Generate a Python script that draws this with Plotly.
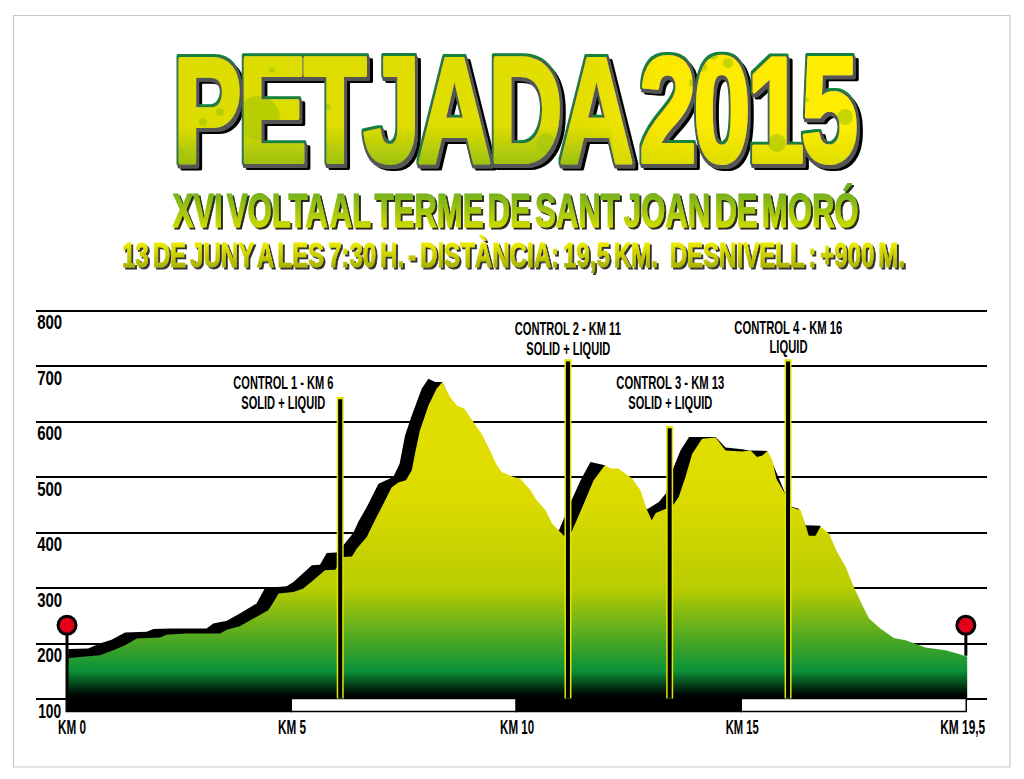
import json
import plotly.graph_objects as go

# elevation profile (km, metres)
km_front = [0, 0.03, 0.73, 1.03, 1.29, 1.55, 2.07, 2.21, 2.66, 3.4, 3.55, 3.84, 4.14, 4.47, 4.59, 4.7, 5.03, 5.25,
            5.47, 5.73, 5.96, 6.14, 6.33, 6.44, 6.66, 6.84, 7.03, 7.21, 7.36, 7.53, 7.66, 7.73, 7.84, 8.03, 8.21,
            8.34, 8.51, 8.66, 8.83, 9.03, 9.21, 9.4, 9.55, 9.66, 9.89, 10.07, 10.3, 10.41, 10.63, 10.78, 11.04,
            11.21, 11.45, 11.7, 11.95, 12.07, 12.26, 12.56, 12.74, 12.89, 12.99, 13.08, 13.31, 13.48, 13.59, 13.74,
            13.89, 14.11, 14.41, 14.63, 15.0, 15.19, 15.33, 15.45, 15.56, 15.67, 15.76, 15.93, 16.08, 16.3, 16.41,
            16.48, 16.63, 16.74, 16.93, 17.11, 17.3, 17.48, 17.67, 17.82, 18.07, 18.37, 18.63, 19.07, 19.52, 19.82,
            20.0, 20.0]
elev_front = [100, 174, 179, 188, 197, 209, 211, 216, 218, 218, 225, 231, 245, 260, 275, 290, 293, 299,
              314, 332, 333, 356, 357, 371, 392, 422, 452, 481, 490, 494, 512, 542, 584, 629, 659,
              671, 644, 629, 623, 599, 578, 548, 521, 509, 501, 497, 476, 461, 440, 416, 394,
              401, 446, 494, 521, 516, 515, 497, 476, 440, 422, 435, 443, 451, 464, 500,
              542, 569, 571, 548, 546, 548, 536, 539, 547, 530, 497, 473, 446, 440, 413,
              394, 394, 411, 398, 365, 338, 302, 269, 245, 227, 210, 206, 193, 188, 181,
              176, 100]

km_shadow = [0, 0.03, 0.47, 0.73, 0.99, 1.29, 1.77, 1.92, 2.29, 3.1, 3.25, 3.55, 3.84, 4.21, 4.4, 4.88, 5.03, 5.44,
             5.62, 5.77, 5.99, 6.14, 6.36, 6.47, 6.66, 6.92, 7.25, 7.39, 7.51, 7.66, 7.88, 8.03, 8.18, 8.34, 9.89,
             10.93, 11.21, 11.41, 11.63, 11.95, 12.89, 13.15, 13.3, 13.48, 13.63, 13.82, 14.41, 14.63, 15.0, 15.15,
             15.56, 16.08, 16.26, 16.41, 16.74, 16.74]
elev_shadow = [100, 190, 191, 200, 207, 220, 221, 226, 227, 227, 236, 241, 254, 272, 300, 303, 311, 341,
               342, 363, 364, 377, 399, 419, 446, 488, 500, 524, 575, 611, 659, 677, 671, 671, 400,
               404, 458, 494, 527, 521, 442, 455, 470, 518, 548, 572, 572, 553, 550, 548,
               547, 447, 443, 413, 412, 100]

control_km = [6.07, 11.13, 13.39, 16.02]
control_top = [644, 712, 592, 712]
control_text = [["CONTROL 1 - KM 6", "SOLID + LIQUID"], ["CONTROL 2 - KM 11", "SOLID + LIQUID"],
                ["CONTROL 3 - KM 13", "SOLID + LIQUID"], ["CONTROL 4 - KM 16", "LIQUID"]]

flag_km = [0, 19.97]
flag_top = [233, 233]
flag_bottom = [100, 178]

segment_km = [2.5, 7.5, 12.5, 17.5]
segment_colors = ["black", "white", "black", "white"]

elev_ticks = [100, 200, 300, 400, 500, 600, 700, 800]
km_tick_vals = [0.11, 5, 10, 15, 19.9]
km_tick_text = ["KM 0", "KM 5", "KM 10", "KM 15", "KM 19,5"]

TITLE = "PETJADA 2015"
SUB1 = "XVI VOLTA AL TERME DE SANT JOAN DE MORÓ"
SUB2 = "13 DE JUNY A LES 7:30 H. - DISTÀNCIA: 19,5 KM.\u00a0\u00a0\u00a0DESNIVELL : +900 M."

W, H = 1024, 779
FONT = "Liberation Sans"
TITLE_FONT = "Liberation Sans Narrow, Liberation Sans"

fig = go.Figure()

# black shadow behind the mountain
fig.add_trace(go.Scatter(x=km_shadow, y=elev_shadow, mode="none", fill="toself", fillcolor="black"))

fig.add_trace(go.Scatter(
    x=km_front, y=elev_front, mode="none", fill="toself",
    fillgradient=dict(type="vertical", start=100, stop=700, colorscale=[
        [0, "#000000"], [0.015, "#010a04"], [0.085, "#0b9239"], [0.333, "#b9cc00"], [0.6, "#dcdb00"], [0.75, "#e0dd00"], [1, "#e0dd00"]]),
))

# km segments under the profile
fig.add_trace(go.Bar(x=segment_km, y=[-24] * 4, base=100, width=5, marker=dict(color=segment_colors, line=dict(color="black", width=1.5))))

# control poles
pole_x, pole_y, pole_y2 = [], [], []
for k, t in zip(control_km, control_top):
    pole_x += [k, k, None]
    pole_y += [101, t, None]
    pole_y2 += [101, t - 4, None]
fig.add_trace(go.Scatter(x=pole_x, y=pole_y, mode="lines", line=dict(color="#e4e400", width=7)))
fig.add_trace(go.Scatter(x=pole_x, y=pole_y2, mode="lines", line=dict(color="black", width=4)))

# start and finish flags
for k, t, b in zip(flag_km, flag_top, flag_bottom):
    fig.add_trace(go.Scatter(x=[k, k], y=[b, t], mode="lines", line=dict(color="black", width=3)))
    fig.add_trace(go.Scatter(x=[k], y=[t], mode="markers", marker=dict(size=18, color="#e2001a", line=dict(color="black", width=3))))

annotations = []


def label(text, px, py, size, color="black", family=FONT, weight="bold"):
    annotations.append(dict(text=text, xref="paper", yref="paper", x=px / W, y=1 - py / H, showarrow=False,
                            xanchor="center", yanchor="middle", font=dict(family=family, size=size, color=color, weight=weight)))


label(TITLE, 514, 110, 150, "#d8dc00", family=TITLE_FONT)
label(SUB1, 515, 210, 49, "#a0c000")
label(SUB2, 513, 254, 35, "#d0d400")

label(control_text[0][0], 283, 383, 18)
label(control_text[0][1], 283, 403, 18)
label(control_text[1][0], 568, 329, 18)
label(control_text[1][1], 568, 349, 18)
label(control_text[2][0], 670, 383, 18)
label(control_text[2][1], 670, 403, 18)
label(control_text[3][0], 788, 328, 18)
label(control_text[3][1], 788, 347, 18)

# elevation labels sit just under their grid lines
for v in elev_ticks:
    annotations.append(dict(text=str(v), xref="paper", yref="y", x=49 / W, y=v, yshift=-11.5, showarrow=False,
                            xanchor="center", yanchor="middle", font=dict(family=FONT, size=20, color="black", weight="bold")))

fig.update_layout(
    width=W, height=H, margin=dict(l=0, r=0, t=0, b=0, autoexpand=False),
    paper_bgcolor="white", plot_bgcolor="white", showlegend=False, bargap=0,
    annotations=annotations,
    shapes=[dict(type="rect", xref="paper", yref="paper", x0=13.5 / W, x1=1010 / W, y0=1 - 767 / H, y1=1 - 15.5 / H,
                 line=dict(color="#c8c8c8", width=1.2), layer="below")],
    xaxis=dict(domain=[36 / W, 987 / W], range=[-0.689, 20.44], showgrid=False, zeroline=False, showline=False,
               automargin=False, tickmode="array", tickvals=km_tick_vals, ticktext=km_tick_text, ticks="",
               tickfont=dict(family=FONT, size=20, color="black", weight="bold")),
    yaxis=dict(domain=[1 - 712.9 / H, 1 - 302.2 / H], range=[75, 815], showgrid=True, gridcolor="black", gridwidth=2,
               zeroline=False, showline=False, automargin=False, tickmode="array", tickvals=elev_ticks, showticklabels=False),
)

# the lettering on the poster is far narrower than any installed face, so fit each text to its measured width
widths = {TITLE: 682, SUB1: 686, SUB2: 783, "SOLID + LIQUID": 84, "LIQUID": 38,
          control_text[0][0]: 100, control_text[1][0]: 106, control_text[2][0]: 108, control_text[3][0]: 108,
          "100": 23, "200": 25, "300": 25, "400": 25, "500": 25, "600": 25, "700": 25, "800": 25,
          "KM 0": 28, "KM 5": 28, "KM 10": 34, "KM 15": 33, "KM 19,5": 45}

# paint splashes inside the title letters: page x, page y, radius
splashes = [[258, 118, 22], [272, 70, 3], [328, 107, 3], [323, 147, 6], [220, 112, 4], [203, 122, 4], [180, 153, 5],
            [421, 65, 7], [375, 112, 6], [475, 60, 6], [518, 97, 6], [546, 143, 10], [636, 73, 6], [702, 67, 5],
            [728, 63, 5], [713, 55, 5], [693, 83, 4], [845, 117, 8], [777, 143, 9], [807, 100, 2]]

post = """
var gd = document.getElementById('{plot_id}');
document.body.style.margin = '0';
var widths = %s;
var splashes = %s;
var NS = 'http://www.w3.org/2000/svg';
var svg = gd.querySelector('svg.main-svg');
var defs = svg.querySelector('defs');
function el(name, attrs, parent) {
  var e = document.createElementNS(NS, name);
  Object.keys(attrs).forEach(function (k) { e.setAttribute(k, attrs[k]); });
  if (parent) parent.appendChild(e);
  return e;
}
function grad(id, x1, y1, x2, y2, stops) {
  var g = el('linearGradient', {id: id, x1: x1, y1: y1, x2: x2, y2: y2}, defs);
  stops.forEach(function (s) {
    var st = el('stop', {offset: s[0], 'stop-color': s[1]}, g);
    if (s.length > 2) st.setAttribute('stop-opacity', s[2]);
  });
}
grad('gBase', 0, 0, 1, 0, [[0, '#dcdc00'], [0.6, '#e2de00'], [0.72, '#fbe900'], [1, '#ffee00']]);
grad('gFoot', 0, 0, 0, 1, [[0, '#90bc10', 0], [1, '#90bc10', 0.95]]);
grad('gFootR', 0, 0, 0, 1, [[0, '#b8cc00', 0], [1, '#b8cc00', 0.5]]);
grad('gSub1', 0, 0, 0, 1, [[0.15, '#6fae1f'], [0.85, '#d2dc00']]);
grad('gSub2', 0, 0, 0, 1, [[0.2, '#ecec00'], [0.85, '#a8b000']]);

// title outline and shadow as one filter, so the title stays a single text
var f = el('filter', {id: 'fTitle', x: '-5%%', y: '-10%%', width: '110%%', height: '120%%'}, defs);
el('feMorphology', {in: 'SourceAlpha', operator: 'dilate', radius: 2.2, result: 'fat'}, f);
[['s', 4, 3.5, '#000000'], ['g', 1, 1.5, '#555555'], ['t', -0.4, -1.2, '#14803c']].forEach(function (l) {
  el('feOffset', {in: 'fat', dx: l[1], dy: l[2], result: l[0] + 'o'}, f);
  el('feFlood', {'flood-color': l[3], result: l[0] + 'c'}, f);
  el('feComposite', {in: l[0] + 'c', in2: l[0] + 'o', operator: 'in', result: l[0]}, f);
});
var m = el('feMerge', {}, f);
['s', 't', 'g', 'SourceGraphic'].forEach(function (n) { el('feMergeNode', {in: n}, m); });

function shadowFilter(id, d, color) {
  var s = el('filter', {id: id, x: '-2%%', y: '-10%%', width: '104%%', height: '120%%'}, defs);
  el('feOffset', {in: 'SourceAlpha', dx: d, dy: d, result: 'o'}, s);
  el('feFlood', {'flood-color': color, result: 'c'}, s);
  el('feComposite', {in: 'c', in2: 'o', operator: 'in', result: 'sh'}, s);
  var mm = el('feMerge', {}, s);
  el('feMergeNode', {in: 'sh'}, mm);
  el('feMergeNode', {in: 'SourceGraphic'}, mm);
}
shadowFilter('fSub1', 2, '#2a2a1a');
shadowFilter('fSub2', 1.5, '#333333');

gd.querySelectorAll('text').forEach(function (t) {
  var w = widths[t.textContent];
  if (w) {
    t.setAttribute('textLength', w);
    t.setAttribute('lengthAdjust', 'spacingAndGlyphs');
  }
});
function annText(i) { return gd.querySelector('g.annotation[data-index="' + i + '"] text'); }

var title = annText(0);
title.style.wordSpacing = '-18px';
title.style.letterSpacing = '-5px';
var bb = title.getBBox();
var r = title.getBoundingClientRect();
var p = el('pattern', {id: 'pTitle', patternUnits: 'userSpaceOnUse', x: bb.x, y: bb.y, width: bb.width, height: bb.height}, defs);
el('rect', {x: 0, y: 0, width: bb.width, height: bb.height, fill: 'url(#gBase)'}, p);
el('rect', {x: 0, y: 125 - r.top, width: 612 - r.left, height: 45, fill: 'url(#gFoot)'}, p);
el('rect', {x: 612 - r.left, y: 125 - r.top, width: bb.width, height: 45, fill: 'url(#gFootR)'}, p);
splashes.forEach(function (c) {
  el('circle', {cx: c[0] - r.left, cy: c[1] - r.top, r: c[2], fill: '#a2c408', 'fill-opacity': 0.6}, p);
});
title.style.fill = 'url(#pTitle)';
title.style.stroke = 'url(#pTitle)';
title.style.strokeWidth = 4;
title.style.strokeLinejoin = 'round';
title.setAttribute('filter', 'url(#fTitle)');

function paint(i, gid, fid, sw, ws) {
  var t = annText(i);
  t.style.fill = 'url(#' + gid + ')';
  t.style.stroke = 'url(#' + gid + ')';
  t.style.strokeWidth = sw;
  t.style.wordSpacing = ws;
  t.setAttribute('filter', 'url(#' + fid + ')');
}
paint(1, 'gSub1', 'fSub1', 1.2, '-7px');
paint(2, 'gSub2', 'fSub2', 0.8, '-4px');
""" % (json.dumps(widths), json.dumps(splashes))

fig.write_html("out.html", post_script=post, config={"displayModeBar": False})
